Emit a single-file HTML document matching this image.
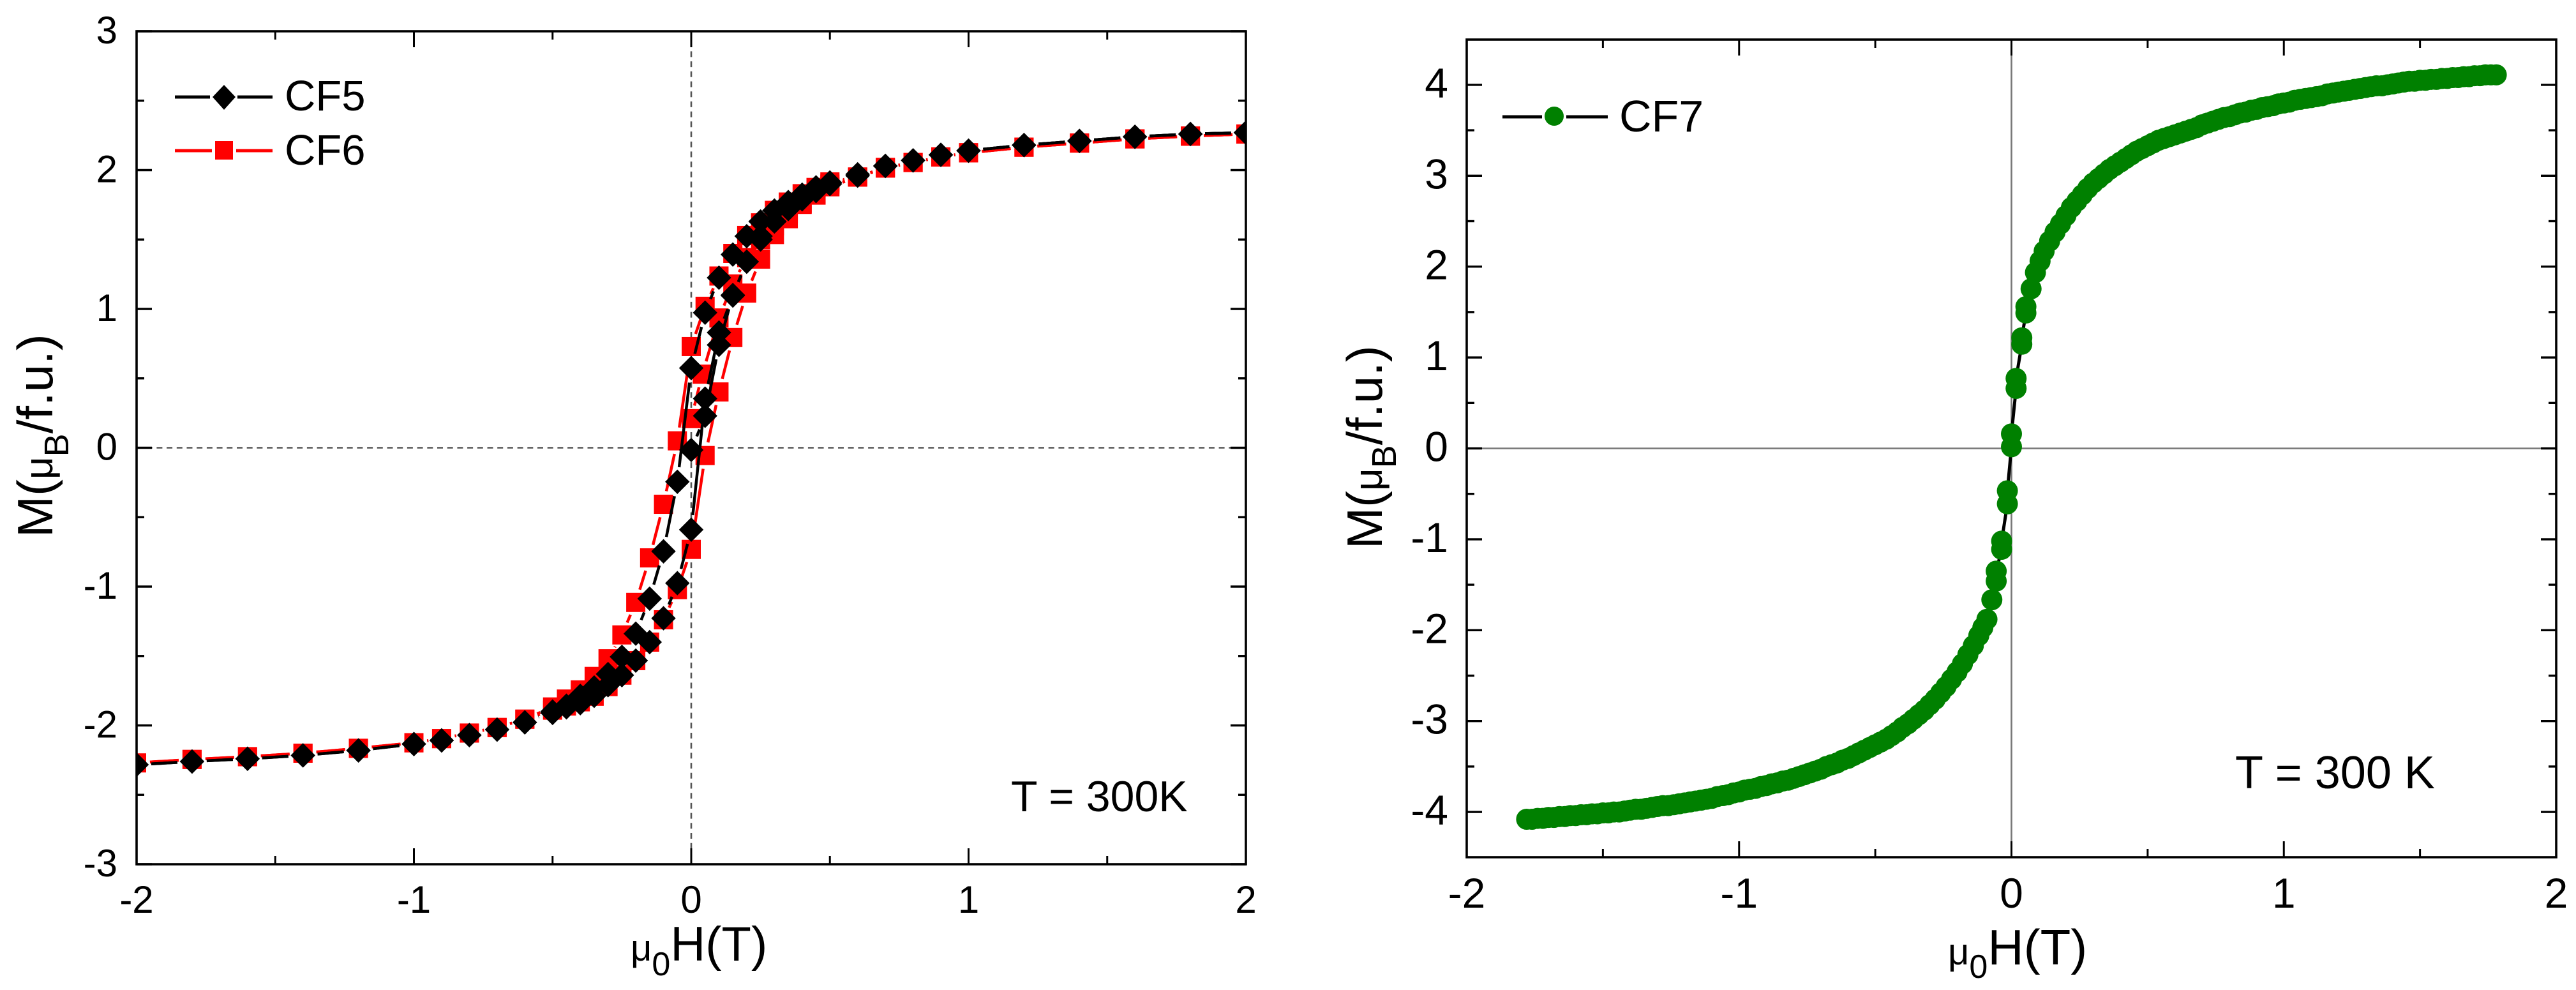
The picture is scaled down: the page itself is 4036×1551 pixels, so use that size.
<!DOCTYPE html>
<html lang="en">
<head>
<meta charset="utf-8">
<title>Magnetization hysteresis loops CF5, CF6, CF7</title>
<style>
  html, body { margin: 0; padding: 0; background: #fff; }
  svg { display: block; }
  text { font-family: "Liberation Sans", Arial, sans-serif; fill: #000; }
</style>
</head>
<body>
<svg id="figure" xmlns="http://www.w3.org/2000/svg" width="4036" height="1551" viewBox="0 0 4036 1551">
  <rect x="0" y="0" width="4036" height="1551" fill="#fff"/>
  <defs>
    <clipPath id="clip-left"><rect x="214" y="49" width="1738" height="1305"/></clipPath>
    <clipPath id="clip-right"><rect x="2298" y="62" width="1707" height="1281"/></clipPath>
  </defs>

  <g id="left-panel">
    <g id="left-guides"></g>
    <g id="left-series" clip-path="url(#clip-left)"></g>
    <rect x="214" y="49" width="1738" height="1305" fill="none" stroke="#000" stroke-width="3.6"/>
    <g id="left-axes"></g>
    <text transform="translate(82,842) rotate(-90)" font-size="78">M(<tspan font-size="62">μ</tspan><tspan font-size="54" dy="25">B</tspan><tspan dy="-25">/f.u.)</tspan></text>
    <text x="988" y="1505" font-size="76"><tspan font-size="58">μ</tspan><tspan font-size="52" dy="23">0</tspan><tspan dy="-23">H(T)</tspan></text>
    <g>
      <g>
        <line x1="274" y1="152" x2="329" y2="152" stroke="#000" stroke-width="5"/>
        <line x1="372" y1="152" x2="427" y2="152" stroke="#000" stroke-width="5"/>
        <polygon points="351,133 369,152 351,172 333,152" fill="#000"/>
        <text x="446" y="173" font-size="67">CF5</text>
      </g>
      <g>
        <line x1="274" y1="236" x2="332" y2="236" stroke="#f00" stroke-width="5"/>
        <line x1="370" y1="236" x2="427" y2="236" stroke="#f00" stroke-width="5"/>
        <rect x="337" y="221" width="28" height="29" fill="#f00"/>
        <text x="446" y="258" font-size="67">CF6</text>
      </g>
    </g>
    <text x="1584" y="1271" font-size="68">T = 300K</text>
  </g>

  <g id="right-panel">
    <g id="right-guides"></g>
    <g id="right-series" clip-path="url(#clip-right)"></g>
    <rect x="2298" y="62" width="1707" height="1281" fill="none" stroke="#000" stroke-width="3.6"/>
    <g id="right-axes"></g>
    <text transform="translate(2165,860) rotate(-90)" font-size="78">M(<tspan font-size="62">μ</tspan><tspan font-size="54" dy="22">B</tspan><tspan dy="-22">/f.u.)</tspan></text>
    <text x="3052" y="1511" font-size="78"><tspan font-size="58">μ</tspan><tspan font-size="52" dy="21">0</tspan><tspan dy="-21">H(T)</tspan></text>
    <g>
      <g>
        <line x1="2354" y1="183" x2="2416" y2="183" stroke="#000" stroke-width="5"/>
        <line x1="2454" y1="183" x2="2519" y2="183" stroke="#000" stroke-width="5"/>
        <circle cx="2435" cy="182" r="15" fill="#008000"/>
        <text x="2537" y="206" font-size="70">CF7</text>
      </g>
    </g>
    <text x="3502" y="1235" font-size="72">T = 300 K</text>
  </g>
</svg>

<script>
// ---- Left chart tick data ----
const leftXTicks = [-2, -1, 0, 1, 2];
const leftXMinorTicks = [-1.5, -0.5, 0.5, 1.5];
const leftYTicks = [-3, -2, -1, 0, 1, 2, 3];
const leftYMinorTicks = [-2.5, -1.5, -0.5, 0.5, 1.5, 2.5];

// ---- CF5 (field in T, moment in uB/f.u.) : virgin, down sweep, up sweep ----
const cf5Field = [
  0, .05, .1, .15, .2, .25, .3, .35, .4, .45, .5, .6, .7, .8, .9, 1, 1.2, 1.4, 1.6, 1.8, 2,
  1.8, 1.6, 1.4, 1.2, 1, .9, .8, .7, .6, .5, .45, .4, .35, .3, .25, .2, .15, .1, .05, 0,
  -.05, -.1, -.15, -.2, -.25, -.3, -.35, -.4, -.45, -.5, -.6, -.7, -.8, -.9, -1, -1.2, -1.4, -1.6, -1.8, -2,
  -1.8, -1.6, -1.4, -1.2, -1, -.9, -.8, -.7, -.6, -.5, -.45, -.4, -.35, -.3, -.25, -.2, -.15, -.1, -.05, 0,
  .05, .1, .15, .2, .25, .3, .35, .4, .45, .5, .6, .7, .8, .9, 1, 1.2, 1.4, 1.6, 1.8, 2
];
const cf5Moment = [
  -.016, .23, .741, 1.1, 1.34, 1.5, 1.63, 1.72, 1.79, 1.85, 1.9, 1.97, 2.03, 2.07, 2.11, 2.14, 2.18, 2.21, 2.24, 2.26, 2.27,
  2.26, 2.24, 2.21, 2.18, 2.14, 2.11, 2.07, 2.03, 1.96, 1.911, 1.876, 1.823, 1.77, 1.709, 1.63, 1.524, 1.392, 1.225, .973, .574,
  -.245, -.746, -1.087, -1.339, -1.506, -1.63, -1.727, -1.787, -1.858, -1.91, -1.978, -2.03, -2.07, -2.108, -2.134, -2.18, -2.216, -2.24, -2.26, -2.283,
  -2.26, -2.24, -2.216, -2.18, -2.134, -2.108, -2.07, -2.03, -1.978, -1.9, -1.87, -1.84, -1.787, -1.71, -1.638, -1.533, -1.4, -1.228, -.975, -.59,
  .354, .83, 1.096, 1.34, 1.524, 1.63, 1.72, 1.79, 1.85, 1.9, 1.96, 2.03, 2.07, 2.11, 2.14, 2.18, 2.21, 2.24, 2.26, 2.27
];

// ---- CF6 (field in T, moment in uB/f.u.) : virgin, down sweep, up sweep ----
const cf6Field = [
  0, .04, .1, .15, .2, .25, .3, .35, .4, .45, .5, .6, .7, .8, .9, 1, 1.2, 1.4, 1.6, 1.8, 2,
  1.8, 1.6, 1.4, 1.2, 1, .9, .8, .7, .6, .5, .45, .4, .35, .3, .25, .2, .15, .1, .05, 0,
  -.05, -.1, -.15, -.2, -.25, -.3, -.35, -.4, -.45, -.5, -.6, -.7, -.8, -.9, -1, -1.2, -1.4, -1.6, -1.8, -2,
  -1.8, -1.6, -1.4, -1.2, -1, -.9, -.8, -.7, -.6, -.5, -.45, -.4, -.35, -.3, -.25, -.2, -.15, -.1, -.05, 0,
  .05, .1, .15, .2, .25, .3, .35, .4, .45, .5, .6, .7, .8, .9, 1, 1.2, 1.4, 1.6, 1.8, 2
];
const cf6Moment = [
  .21, .53, .935, 1.18, 1.37, 1.5, 1.6, 1.69, 1.76, 1.82, 1.88, 1.95, 2.015, 2.055, 2.095, 2.125, 2.165, 2.195, 2.225, 2.245, 2.26,
  2.245, 2.225, 2.195, 2.165, 2.125, 2.095, 2.055, 2.015, 1.95, 1.915, 1.875, 1.83, 1.77, 1.71, 1.62, 1.529, 1.4, 1.237, 1.019, .729,
  .05, -.407, -.793, -1.114, -1.348, -1.52, -1.647, -1.744, -1.81, -1.867, -1.955, -2.015, -2.055, -2.095, -2.125, -2.165, -2.2, -2.225, -2.245, -2.27,
  -2.245, -2.225, -2.2, -2.165, -2.125, -2.095, -2.055, -2.015, -1.955, -1.89, -1.86, -1.83, -1.79, -1.72, -1.638, -1.533, -1.4, -1.239, -1.022, -.732,
  -.056, .402, .794, 1.114, 1.359, 1.536, 1.65, 1.753, 1.832, 1.899, 1.95, 2.02, 2.055, 2.095, 2.125, 2.165, 2.195, 2.225, 2.245, 2.26
];

// ---- Right chart tick data ----
const rightXTicks = [-2, -1, 0, 1, 2];
const rightXMinorTicks = [-1.5, -0.5, 0.5, 1.5];
const rightYTicks = [-4, -3, -2, -1, 0, 1, 2, 3, 4];
const rightYMinorTicks = [-3.5, -2.5, -1.5, -0.5, 0.5, 1.5, 2.5, 3.5];

// ---- CF7 (field in T, moment in uB/f.u.) ----
const cf7Field = [
  -1.78, -1.76, -1.74, -1.72, -1.7, -1.68, -1.66, -1.64, -1.62, -1.6, -1.58, -1.56, -1.54, -1.52, -1.5, -1.48, -1.46, -1.44, -1.42, -1.4,
  -1.38, -1.36, -1.34, -1.32, -1.3, -1.28, -1.26, -1.24, -1.22, -1.2, -1.18, -1.16, -1.14, -1.12, -1.1, -1.08, -1.06, -1.04, -1.02, -1,
  -.98, -.96, -.94, -.92, -.9, -.88, -.86, -.84, -.82, -.8, -.78, -.76, -.74, -.72, -.7, -.68, -.66, -.64, -.62, -.6,
  -.58, -.56, -.54, -.52, -.5, -.48, -.46, -.44, -.42, -.4, -.38, -.36, -.34, -.32, -.3, -.28, -.26, -.24, -.22, -.2,
  -.18, -.16, -.14, -.12, -.105, -.09, -.072, -.056, -.056, -.036, -.036, -.015, -.015, 0, 0,
  .017, .017, .038, .038, .053, .053, .072, .088, .105, .12, .14, .16, .18, .2,
  .22, .24, .26, .28, .3, .32, .34, .36, .38, .4, .42, .44, .46, .48, .5, .52, .54, .56, .58, .6,
  .62, .64, .66, .68, .7, .72, .74, .76, .78, .8, .82, .84, .86, .88, .9, .92, .94, .96, .98, 1,
  1.02, 1.04, 1.06, 1.08, 1.1, 1.12, 1.14, 1.16, 1.18, 1.2, 1.22, 1.24, 1.26, 1.28, 1.3, 1.32, 1.34, 1.36, 1.38, 1.4,
  1.42, 1.44, 1.46, 1.48, 1.5, 1.52, 1.54, 1.56, 1.58, 1.6, 1.62, 1.64, 1.66, 1.68, 1.7, 1.72, 1.74, 1.76, 1.78
];
const cf7Moment = [
  -4.08, -4.08, -4.07, -4.07, -4.06, -4.06, -4.05, -4.05, -4.04, -4.04, -4.03, -4.03, -4.02, -4.02, -4.01, -4.01, -4, -4, -3.99, -3.98,
  -3.97, -3.97, -3.96, -3.95, -3.94, -3.93, -3.93, -3.92, -3.91, -3.9, -3.89, -3.88, -3.87, -3.86, -3.85, -3.83, -3.82, -3.81, -3.79, -3.78,
  -3.76, -3.75, -3.74, -3.72, -3.71, -3.69, -3.68, -3.66, -3.65, -3.63, -3.61, -3.59, -3.57, -3.55, -3.53, -3.5, -3.48, -3.46, -3.43, -3.41,
  -3.38, -3.35, -3.32, -3.29, -3.26, -3.23, -3.2, -3.16, -3.12, -3.07, -3.03, -2.98, -2.93, -2.88, -2.82, -2.76, -2.69, -2.62, -2.54, -2.46,
  -2.37, -2.27, -2.17, -2.06, -1.97, -1.88, -1.665, -1.46, -1.35, -1.11, -1.02, -.61, -.466, .018, .16,
  .66, .77, 1.146, 1.217, 1.49, 1.56, 1.756, 1.935, 2.06, 2.17, 2.28, 2.38, 2.47, 2.56,
  2.65, 2.72, 2.79, 2.86, 2.92, 2.97, 3.02, 3.07, 3.11, 3.15, 3.19, 3.23, 3.27, 3.3, 3.33, 3.36, 3.39, 3.41, 3.43, 3.45,
  3.47, 3.49, 3.51, 3.53, 3.56, 3.58, 3.6, 3.62, 3.64, 3.65, 3.67, 3.69, 3.7, 3.72, 3.73, 3.75, 3.76, 3.77, 3.79, 3.8,
  3.81, 3.83, 3.84, 3.85, 3.86, 3.87, 3.88, 3.9, 3.91, 3.92, 3.93, 3.94, 3.95, 3.96, 3.97, 3.98, 3.99, 3.99, 4, 4.01,
  4.02, 4.03, 4.04, 4.04, 4.05, 4.05, 4.06, 4.06, 4.07, 4.07, 4.08, 4.08, 4.09, 4.09, 4.1, 4.1, 4.11, 4.11, 4.11
];

// ---- Axis functions ----
const xLeft = h => 1083 + h * 434.5;
const yLeft = m => 701.5 - m * 217.5;
const xRight = h => 3151.5 + h * 426.75;
const yRight = m => 702.5 - m * 142.4;

const NS = 'http://www.w3.org/2000/svg';
function make(tag, attrs, parent) {
  const el = document.createElementNS(NS, tag);
  for (const k in attrs) el.setAttribute(k, attrs[k]);
  parent.appendChild(el);
  return el;
}

function drawAxes(group, box, xf, yf, xMajor, xMinor, yMajor, yMinor, fontSize, xBase, yEnd, yOffset) {
  xMajor.forEach(v => {
    const x = xf(v);
    const b = make('line', {x1: x, x2: x, y1: box.bottom, y2: box.bottom - 25, stroke: '#000', 'stroke-width': 3}, group);
    
    
    const t = make('line', {x1: x, x2: x, y1: box.top, y2: box.top + 25, stroke: '#000', 'stroke-width': 3}, group);
    
    
    const label = make('text', {x: x, y: xBase, 'font-size': fontSize, 'text-anchor': 'middle'}, group);
    label.textContent = String(v);
    
    
  });
  xMinor.forEach(v => {
    const x = xf(v);
    const b = make('line', {x1: x, x2: x, y1: box.bottom, y2: box.bottom - 13, stroke: '#000', 'stroke-width': 3}, group);
    
    
    const t = make('line', {x1: x, x2: x, y1: box.top, y2: box.top + 13, stroke: '#000', 'stroke-width': 3}, group);
    
    
  });
  yMajor.forEach(v => {
    const y = yf(v);
    const l = make('line', {x1: box.left, x2: box.left + 24, y1: y, y2: y, stroke: '#000', 'stroke-width': 3.4}, group);
    
    
    const r = make('line', {x1: box.right, x2: box.right - 24, y1: y, y2: y, stroke: '#000', 'stroke-width': 3.4}, group);
    
    
    const label = make('text', {x: yEnd, y: y + yOffset, 'font-size': fontSize, 'text-anchor': 'end'}, group);
    label.textContent = String(v);
    
    
  });
  yMinor.forEach(v => {
    const y = yf(v);
    const l = make('line', {x1: box.left, x2: box.left + 12, y1: y, y2: y, stroke: '#000', 'stroke-width': 3.4}, group);
    
    
    const r = make('line', {x1: box.right, x2: box.right - 12, y1: y, y2: y, stroke: '#000', 'stroke-width': 3.4}, group);
    
    
  });
}

function drawSegments(group, hs, ms, xf, yf, color, width, trim) {
  for (let i = 0; i < hs.length - 1; i++) {
    const x1 = xf(hs[i]), y1 = yf(ms[i]), x2 = xf(hs[i + 1]), y2 = yf(ms[i + 1]);
    const d = Math.hypot(x2 - x1, y2 - y1);
    if (d <= 2 * trim) continue;
    const ux = (x2 - x1) / d, uy = (y2 - y1) / d;
    const seg = make('line', {
      x1: x1 + ux * trim, y1: y1 + uy * trim,
      x2: x2 - ux * trim, y2: y2 - uy * trim,
      stroke: color, 'stroke-width': width
    }, group);
    
    
  }
}

const L = {
  guides: document.getElementById('left-guides'),
  series: document.getElementById('left-series'),
  axes: document.getElementById('left-axes')
};
const R = {
  guides: document.getElementById('right-guides'),
  series: document.getElementById('right-series'),
  axes: document.getElementById('right-axes')
};

// Left guides (dashed zero lines)
const lgh = make('line', {x1: 214, x2: 1952, y1: yLeft(0), y2: yLeft(0), stroke: '#555', 'stroke-width': 2.6, 'stroke-dasharray': '9 6.7'}, L.guides);


const lgv = make('line', {x1: xLeft(0), x2: xLeft(0), y1: 49, y2: 1354, stroke: '#555', 'stroke-width': 2.6, 'stroke-dasharray': '9 6.7'}, L.guides);



// CF6 beneath CF5
const cf6Group = make('g', {}, L.series);


drawSegments(cf6Group, cf6Field, cf6Moment, xLeft, yLeft, '#f00', 4.5, 21);
cf6Field.forEach((h, i) => {
  const x = xLeft(h), y = yLeft(cf6Moment[i]);
  const p = make('rect', {x: x - 15, y: y - 15, width: 30, height: 30, fill: '#f00'}, cf6Group);
  
  
});

const cf5Group = make('g', {}, L.series);


drawSegments(cf5Group, cf5Field, cf5Moment, xLeft, yLeft, '#000', 4.5, 23);
cf5Field.forEach((h, i) => {
  const x = xLeft(h), y = yLeft(cf5Moment[i]), r = 19.2;
  const p = make('polygon', {points: `${x},${y - r} ${x + r},${y} ${x},${y + r} ${x - r},${y}`, fill: '#000'}, cf5Group);
  
  
});

drawAxes(L.axes, {left: 214, right: 1952, top: 49, bottom: 1354}, xLeft, yLeft,
  leftXTicks, leftXMinorTicks, leftYTicks, leftYMinorTicks, 60, 1430, 184, 19);

// Right guides (solid zero lines)
const rgh = make('line', {x1: 2298, x2: 4005, y1: yRight(0), y2: yRight(0), stroke: '#777', 'stroke-width': 2.4}, R.guides);


const rgv = make('line', {x1: xRight(0), x2: xRight(0), y1: 62, y2: 1343, stroke: '#777', 'stroke-width': 2.6}, R.guides);



const cf7Group = make('g', {}, R.series);


drawSegments(cf7Group, cf7Field, cf7Moment, xRight, yRight, '#000', 5, 10);
cf7Field.forEach((h, i) => {
  const p = make('circle', {cx: xRight(h), cy: yRight(cf7Moment[i]), r: 16.5, fill: '#008000'}, cf7Group);
  
  
});

drawAxes(R.axes, {left: 2298, right: 4005, top: 62, bottom: 1343}, xRight, yRight,
  rightXTicks, rightXMinorTicks, rightYTicks, rightYMinorTicks, 66, 1422, 2269, 20);
</script>
</body>
</html>
